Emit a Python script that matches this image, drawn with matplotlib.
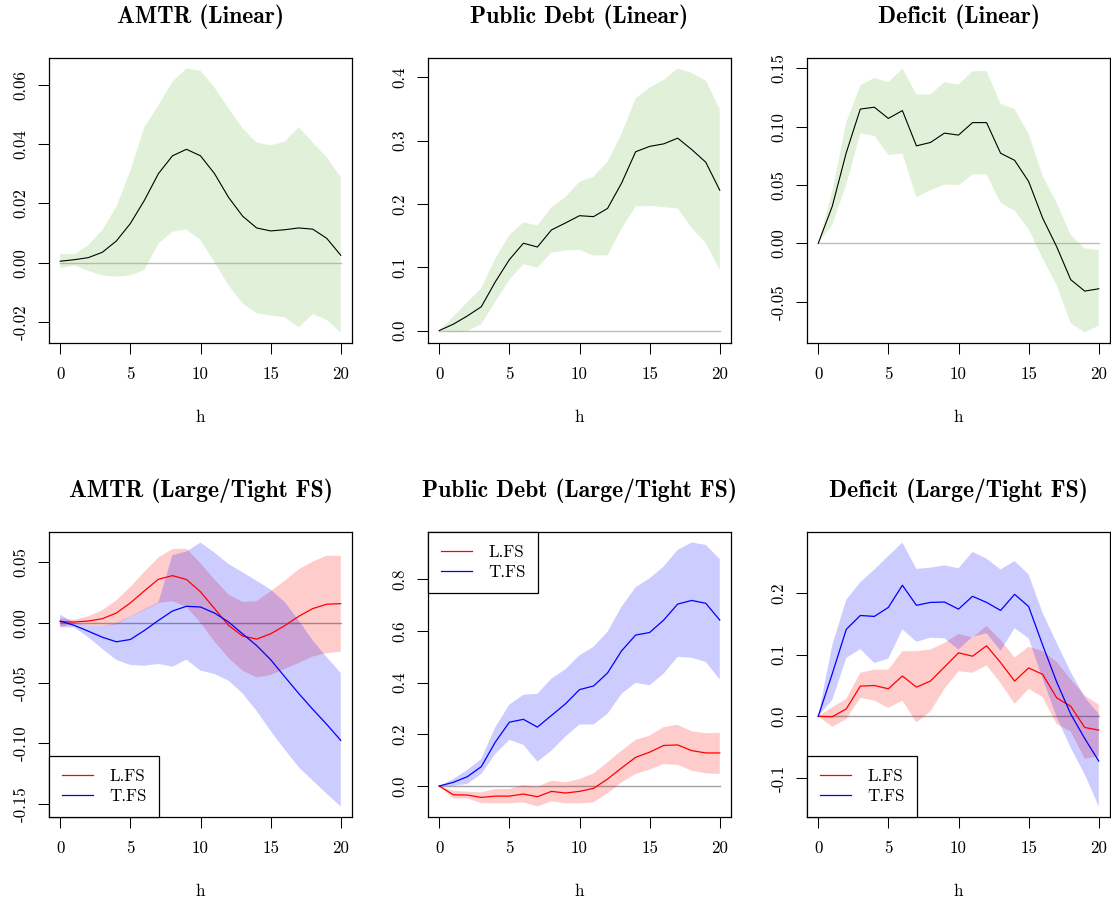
import matplotlib
matplotlib.use("Agg")
import matplotlib.pyplot as plt
import numpy as np

# ---------------- data ----------------
h = list(range(21))

amtr_lin_mid = [0.0005, 0.001, 0.0017, 0.0035, 0.0073, 0.0132, 0.021, 0.030, 0.036, 0.0382, 0.036,
                0.030, 0.022, 0.0157, 0.0117, 0.0107, 0.0111, 0.0117, 0.0113, 0.0082, 0.0025]
amtr_lin_up = [0.003, 0.0028, 0.0059, 0.011, 0.0188, 0.031, 0.0457, 0.053, 0.061, 0.0654, 0.0647,
               0.059, 0.052, 0.0453, 0.0405, 0.0395, 0.0408, 0.0456, 0.0405, 0.0355, 0.0287]
amtr_lin_lo = [-0.0018, -0.0009, -0.0028, -0.0043, -0.0047, -0.0043, -0.0024, 0.0064, 0.0104, 0.0112, 0.0076,
               0.0002, -0.0077, -0.0137, -0.017, -0.0178, -0.0184, -0.0218, -0.0173, -0.0193, -0.0235]

debt_lin_mid = [0, 0.010, 0.023, 0.0376, 0.077, 0.112, 0.138, 0.132, 0.159, 0.170, 0.1815,
                0.180, 0.193, 0.233, 0.2825, 0.291, 0.295, 0.304, 0.286, 0.266, 0.2217]
debt_lin_up = [0, 0.022, 0.045, 0.067, 0.114, 0.151, 0.171, 0.166, 0.195, 0.211, 0.235,
               0.243, 0.267, 0.311, 0.367, 0.384, 0.396, 0.414, 0.407, 0.395, 0.35]
debt_lin_lo = [0, -0.003, -0.001, 0.010, 0.0455, 0.08, 0.105, 0.0995, 0.123, 0.1265, 0.1275,
               0.1185, 0.119, 0.161, 0.196, 0.197, 0.195, 0.193, 0.162, 0.138, 0.0958]

def_lin_mid = [0, 0.0317, 0.0777, 0.115, 0.1166, 0.107, 0.1137, 0.0835, 0.0864, 0.0944, 0.0927,
               0.1034, 0.1034, 0.0772, 0.0711, 0.053, 0.0216, -0.0029, -0.0311, -0.0409, -0.0389]
def_lin_up = [0, 0.0446, 0.1037, 0.1353, 0.1417, 0.138, 0.1497, 0.1276, 0.1276, 0.138, 0.136,
              0.1474, 0.1477, 0.1195, 0.115, 0.0936, 0.0576, 0.0346, 0.0072, -0.0043, -0.0058]
def_lin_lo = [0, 0.0158, 0.0504, 0.0942, 0.0921, 0.0757, 0.0769, 0.0394, 0.0455, 0.0504, 0.0498,
              0.059, 0.059, 0.0346, 0.028, 0.0121, -0.013, -0.036, -0.0685, -0.0763, -0.0705]

amtr_L_mid = [0.0008, 0.0006, 0.0014, 0.0033, 0.008, 0.0164, 0.0264, 0.036, 0.039, 0.0358, 0.0256,
              0.0117, -0.0022, -0.011, -0.0136, -0.0092, -0.0025, 0.0053, 0.0117, 0.0153, 0.0158]
amtr_L_up = [0.0039, 0.0025, 0.0053, 0.0103, 0.0186, 0.0297, 0.0422, 0.054, 0.061, 0.0614, 0.0492,
             0.0358, 0.0233, 0.0172, 0.0178, 0.0261, 0.0347, 0.0442, 0.0506, 0.0556, 0.0553]
amtr_L_lo = [-0.0036, -0.0008, -0.0022, -0.0028, -0.0014, 0.0047, 0.0103, 0.0164, 0.0178, 0.013, 0.0,
             -0.0156, -0.0292, -0.0397, -0.0453, -0.0433, -0.0383, -0.0333, -0.028, -0.0253, -0.0239]
amtr_T_mid = [0.0014, -0.0022, -0.007, -0.012, -0.0158, -0.0139, -0.0064, 0.0019, 0.0097, 0.0136, 0.013,
              0.008, 0.0006, -0.0092, -0.0189, -0.0306, -0.0447, -0.0586, -0.0717, -0.0842, -0.0975]
amtr_T_up = [0.0067, -0.0003, -0.0022, -0.0028, -0.0006, 0.005, 0.011, 0.017, 0.056, 0.059, 0.0664,
             0.058, 0.0486, 0.0417, 0.0347, 0.0275, 0.0172, 0.0019, -0.0147, -0.0286, -0.0417]
amtr_T_lo = [-0.0036, -0.004, -0.012, -0.0217, -0.0308, -0.035, -0.0356, -0.0342, -0.0364, -0.0306, -0.0397,
             -0.0425, -0.048, -0.0586, -0.073, -0.0897, -0.105, -0.1197, -0.1308, -0.1417, -0.1522]

debt_L_mid = [0, -0.0337, -0.035, -0.044, -0.039, -0.039, -0.031, -0.0414, -0.0207, -0.027, -0.0207,
              -0.009, 0.027, 0.07, 0.111, 0.131, 0.157, 0.159, 0.137, 0.128, 0.128]
debt_L_up = [0, -0.018, -0.022, -0.0246, -0.0117, -0.0117, 0.004, -0.0026, 0.0207, 0.0142, 0.027,
             0.049, 0.092, 0.137, 0.179, 0.195, 0.228, 0.237, 0.212, 0.2045, 0.206]
debt_L_lo = [0, -0.048, -0.048, -0.066, -0.067, -0.067, -0.0634, -0.079, -0.0595, -0.067, -0.067,
             -0.0634, -0.0285, 0.0142, 0.0466, 0.0634, 0.085, 0.0816, 0.0595, 0.049, 0.0466]
debt_T_mid = [0, 0.0142, 0.036, 0.075, 0.17, 0.247, 0.258, 0.228, 0.273, 0.318, 0.373,
              0.387, 0.4375, 0.523, 0.584, 0.594, 0.642, 0.704, 0.718, 0.707, 0.642]
debt_T_up = [0, 0.027, 0.062, 0.105, 0.228, 0.315, 0.353, 0.357, 0.4155, 0.452, 0.506,
             0.5385, 0.597, 0.694, 0.769, 0.804, 0.849, 0.914, 0.942, 0.933, 0.878]
debt_T_lo = [0, 0.001, 0.008, 0.0466, 0.124, 0.179, 0.159, 0.0945, 0.137, 0.1916, 0.238,
             0.238, 0.2796, 0.357, 0.399, 0.39, 0.435, 0.5, 0.496, 0.48, 0.412]

def_L_mid = [0, -0.0005, 0.012, 0.049, 0.05, 0.0447, 0.0654, 0.0474, 0.0572, 0.08, 0.103,
             0.0975, 0.1144, 0.0872, 0.0572, 0.0785, 0.068, 0.03, 0.0163, -0.018, -0.0223]
def_L_up = [0, 0.0147, 0.0283, 0.0708, 0.0757, 0.0757, 0.1057, 0.1057, 0.1084, 0.119, 0.1335,
            0.128, 0.1466, 0.1237, 0.0954, 0.1128, 0.1057, 0.0883, 0.06, 0.0338, 0.019]
def_L_lo = [0, -0.0169, -0.0044, 0.03, 0.0256, 0.0136, 0.0256, -0.0098, 0.0082, 0.0447, 0.073,
            0.0708, 0.0828, 0.054, 0.0202, 0.0447, 0.031, -0.0125, -0.0245, -0.0687, -0.0643]
def_T_mid = [0, 0.069, 0.141, 0.1635, 0.162, 0.1766, 0.2125, 0.18, 0.1847, 0.1853, 0.1738,
             0.1946, 0.1847, 0.1717, 0.1978, 0.178, 0.1155, 0.0556, 0.0038, -0.036, -0.0725]
def_T_up = [0, 0.1155, 0.189, 0.2174, 0.238, 0.26, 0.2817, 0.239, 0.241, 0.2447, 0.24,
            0.2665, 0.2556, 0.238, 0.2518, 0.23, 0.1673, 0.119, 0.072, 0.031, 0.0038]
def_T_lo = [0, 0.0267, 0.0948, 0.109, 0.0866, 0.0937, 0.141, 0.121, 0.1275, 0.1264, 0.1084,
            0.129, 0.1346, 0.1063, 0.1428, 0.1264, 0.061, -0.0016, -0.0507, -0.0943, -0.146]

titles = ["AMTR (Linear)", "Public Debt (Linear)", "Deficit (Linear)",
          "AMTR (Large/Tight FS)", "Public Debt (Large/Tight FS)", "Deficit (Large/Tight FS)"]
xticks = [0, 5, 10, 15, 20]
yticks = [[-0.02, 0.00, 0.02, 0.04, 0.06],
          [0.0, 0.1, 0.2, 0.3, 0.4],
          [-0.05, 0.00, 0.05, 0.10, 0.15],
          [-0.15, -0.10, -0.05, 0.00, 0.05],
          [0.0, 0.2, 0.4, 0.6, 0.8],
          [-0.1, 0.0, 0.1, 0.2]]
yticklabels = [["-0.02", "0.00", "0.02", "0.04", "0.06"],
               ["0.0", "0.1", "0.2", "0.3", "0.4"],
               ["-0.05", "0.00", "0.05", "0.10", "0.15"],
               ["-0.15", "-0.10", "-0.05", "0.00", "0.05"],
               ["0.0", "0.2", "0.4", "0.6", "0.8"],
               ["-0.1", "0.0", "0.1", "0.2"]]
legend_labels = ["L.FS", "T.FS"]

# ---------------- style ----------------
RM = "cmr10"
BF = "cmb10"
FS = 12.2
TFS = 17.0
green = (136/255, 200/255, 104/255, 0.25)
red_band = (1, 0, 0, 0.2)
blue_band = (0, 0, 1, 0.2)

fig = plt.figure(figsize=(11.11, 9.0), dpi=100)
W, H = 1111.0, 900.0
lefts = [49, 428, 807]
tops = [58, 532]
aw, ah = 303, 285

axes = []
for r in range(2):
    for c in range(3):
        ax = fig.add_axes([lefts[c] / W, 1 - (tops[r] + ah) / H, aw / W, ah / H])
        axes.append(ax)


def style(ax, i, series):
    allv = np.concatenate([np.asarray(s, float) for s in series])
    lo, hi = allv.min(), allv.max()
    r = hi - lo
    ax.set_ylim(lo - 0.04 * r, hi + 0.04 * r)
    ax.set_xlim(-0.8, 20.8)
    ax.set_xticks(xticks, [str(x) for x in xticks], fontfamily=RM, fontsize=FS)
    ax.set_yticks(yticks[i], yticklabels[i], fontfamily=RM, fontsize=FS, rotation=90, va="center")
    ax.tick_params(axis="both", direction="out", length=7.7, width=0.75, color="black")
    ax.tick_params(axis="x", pad=9.0)
    ax.tick_params(axis="y", pad=7.0)
    for sp in ax.spines.values():
        sp.set_linewidth(0.9)
        sp.set_color("black")
    ax.set_title(titles[i], fontfamily=BF, fontsize=TFS, pad=25)
    ax.set_xlabel("h", fontfamily=RM, fontsize=FS, labelpad=20)


# linear panels
lin = [(amtr_lin_mid, amtr_lin_up, amtr_lin_lo),
       (debt_lin_mid, debt_lin_up, debt_lin_lo),
       (def_lin_mid, def_lin_up, def_lin_lo)]
for i, (mid, up, lo) in enumerate(lin):
    ax = axes[i]
    ax.plot([h[0], h[-1]], [0, 0], color="#BEBEBE", lw=1.0, zorder=1)
    ax.fill_between(h, lo, up, facecolor=green, edgecolor="none", zorder=2)
    ax.plot(h, mid, color="black", lw=0.8, zorder=3)
    style(ax, i, [mid, up, lo])

# regime panels
reg = [(amtr_L_mid, amtr_L_up, amtr_L_lo, amtr_T_mid, amtr_T_up, amtr_T_lo, "lower left"),
       (debt_L_mid, debt_L_up, debt_L_lo, debt_T_mid, debt_T_up, debt_T_lo, "upper left"),
       (def_L_mid, def_L_up, def_L_lo, def_T_mid, def_T_up, def_T_lo, "lower left")]
for j, (lm, lu, ll, tm, tu, tl, loc) in enumerate(reg):
    i = j + 3
    ax = axes[i]
    ax.plot([h[0], h[-1]], [0, 0], color="#A0A0A0", lw=1.0, zorder=1)
    ax.fill_between(h, ll, lu, facecolor=red_band, edgecolor="none", zorder=2)
    ax.fill_between(h, tl, tu, facecolor=blue_band, edgecolor="none", zorder=2)
    l1, = ax.plot(h, lm, color="red", lw=0.9, zorder=3)
    l2, = ax.plot(h, tm, color="blue", lw=0.9, zorder=3)
    style(ax, i, [lm, lu, ll, tm, tu, tl])
    leg = ax.legend([l1, l2], legend_labels, loc=loc, borderaxespad=0,
                    prop={"family": RM, "size": FS}, frameon=True, fancybox=False,
                    edgecolor="black", framealpha=1, borderpad=0.75, handlelength=1.85,
                    handletextpad=0.95, labelspacing=0.3)
    leg.get_frame().set_linewidth(0.9)
    leg.set_zorder(5)

fig.savefig("out.png", dpi=100)
